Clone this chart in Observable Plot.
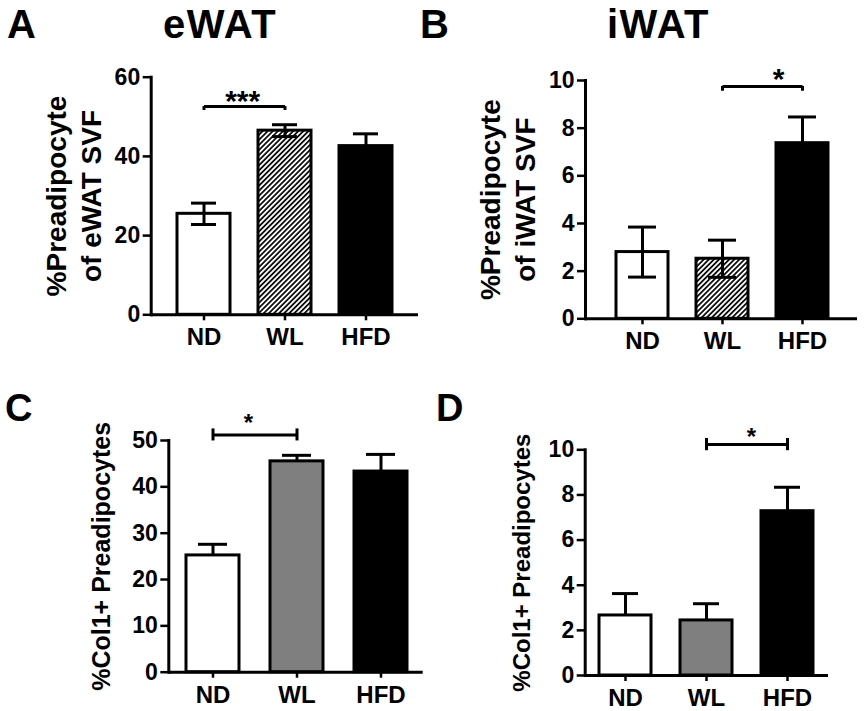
<!DOCTYPE html>
<html>
<head>
<meta charset="utf-8">
<script src="https://cdn.jsdelivr.net/npm/d3@7"></script>
<script src="https://cdn.jsdelivr.net/npm/@observablehq/plot@0.6"></script>
<style>
  html, body { margin: 0; padding: 0; background: #fff; }
  #fig { position: relative; width: 864px; height: 711px; background: #fff; overflow: hidden;
         font-family: "Liberation Sans", Arial, Helvetica, sans-serif; font-weight: bold; color: #000; }
  .lbl { position: absolute; white-space: nowrap; }
  .panel { position: absolute; }
</style>
</head>
<body>
<div id="fig">
  <div class="lbl" style="left:7px; top:4px; font-size:40px; line-height:40px;">A</div>
  <div class="lbl" style="left:163px; top:4px; font-size:40px; line-height:40px; letter-spacing:1.5px;">eWAT</div>
  <div class="lbl" style="left:420px; top:4px; font-size:40px; line-height:40px;">B</div>
  <div class="lbl" style="left:607px; top:4px; font-size:40px; line-height:40px; letter-spacing:1.5px;">iWAT</div>
  <div class="lbl" style="left:5px; top:389px; font-size:38px; line-height:38px;">C</div>
  <div class="lbl" style="left:436px; top:389px; font-size:38px; line-height:38px;">D</div>
</div>
<script>
// ---- data ----
const groups = ["ND", "WL", "HFD"];

const eWATMean = [25.5, 46.5, 42.6];
const eWATSem  = [2.7, 1.5, 3.1];
const eWATTicks = [0, 20, 40, 60];

const iWATMean = [2.8, 2.52, 7.37];
const iWATSem  = [1.05, 0.78, 1.1];
const iWATTicks = [0, 2, 4, 6, 8, 10];

const col1eMean = [25.2, 45.5, 43.3];
const col1eSem  = [2.4, 1.3, 3.7];
const col1eTicks = [0, 10, 20, 30, 40, 50];

const col1iMean = [2.66, 2.44, 7.28];
const col1iSem  = [0.97, 0.74, 1.06];
const col1iTicks = [0, 2, 4, 6, 8, 10];

const fillsTop = ["white", "hatch", "black"];
const fillsBottom = ["white", "#7f7f7f", "black"];

const sigFrom  = ["ND", "WL", "ND", "WL"];
const sigTo    = ["WL", "HFD", "WL", "HFD"];
const sigY     = [52.6, 9.75, 51.2, 10.23];
const sigStarY = [55.9, 10.39, 55.0, 10.81];
const sigLabel = ["***", "*", "*", "*"];

const yTitles = ["%Preadipocyte\nof eWAT SVF", "%Preadipocyte\nof iWAT SVF",
                 "%Col1+ Preadipocytes", "%Col1+ Preadipocytes"];

// ---- panel builder ----
function panel(cfg) {
  const rows = groups.map((g, i) => ({
    g, m: cfg.mean[i], s: cfg.sem[i],
    fill: cfg.fills[i] === "hatch" ? `url(#${cfg.id}-hatch)` : cfg.fills[i]
  }));
  const k = cfg.sig;
  const sig = [{from: sigFrom[k], to: sigTo[k], y: sigY[k], sy: sigStarY[k], label: sigLabel[k]}];
  const ends = [sigFrom[k], sigTo[k]];
  const lw = 3;
  const marks = [
    Plot.barY(rows, {x: "g", y: "m", fill: "fill", stroke: "black", strokeWidth: lw}),
    Plot.ruleX(rows, {x: "g", y1: cfg.twoSided ? d => d.m - d.s : "m", y2: d => d.m + d.s, stroke: "black", strokeWidth: lw}),
    Plot.tickY(rows, {x: "g", y: d => d.m + d.s, stroke: "black", strokeWidth: lw, insetLeft: cfg.capInset, insetRight: cfg.capInset}),
    cfg.twoSided ? Plot.tickY(rows, {x: "g", y: d => d.m - d.s, stroke: "black", strokeWidth: lw, insetLeft: cfg.capInset, insetRight: cfg.capInset}) : null,
    Plot.ruleY([0], {stroke: "black", strokeWidth: lw}),
    Plot.frame({anchor: "left", stroke: "black", strokeWidth: lw}),
    Plot.axisY({ticks: cfg.ticks, tickSize: 8, tickPadding: 3, fontSize: 23, fontWeight: "bold", strokeWidth: 2.5, label: null}),
    Plot.axisX({tickSize: 6, tickPadding: 7.5, fontSize: 24, fontWeight: "bold", strokeWidth: 2.5, label: null}),
    Plot.link(sig, {x1: "from", x2: "to", y1: "y", y2: "y", stroke: "black", strokeWidth: lw}),
    cfg.bracketStyle === "hook"
      ? Plot.ruleX(ends, {x: d => d, y1: sig[0].y - cfg.hook, y2: sig[0].y, stroke: "black", strokeWidth: lw})
      : Plot.ruleX(ends, {x: d => d, y1: sig[0].y - cfg.hook, y2: sig[0].y + cfg.hook, stroke: "black", strokeWidth: lw}),
    Plot.text(sig, {x: "from", y: "sy", text: "label", dx: cfg.starDx, dy: cfg.starSize * 0.26,
                    fontSize: cfg.starSize, fontWeight: "bold", textAnchor: "middle", lineAnchor: "middle"}),
    Plot.text([yTitles[k]], {frameAnchor: "left", text: d => d, rotate: -90, dx: cfg.titleDx,
                    fontSize: cfg.titleSize, fontWeight: "bold", lineHeight: 1.26,
                    textAnchor: "middle", lineAnchor: "middle"})
  ].filter(Boolean);

  const svg = Plot.plot({
    width: cfg.width, height: cfg.height,
    marginLeft: cfg.ml, marginRight: cfg.mr, marginTop: cfg.mt, marginBottom: cfg.mb,
    x: {type: "band", domain: groups, paddingInner: cfg.pi, paddingOuter: cfg.po, align: cfg.align},
    y: {domain: cfg.domain},
    color: {type: "identity"},
    style: {fontFamily: "'Liberation Sans', Arial, Helvetica, sans-serif", fontWeight: "bold",
            color: "black", background: "transparent", overflow: "visible"},
    marks
  });

  const defs = d3.select(svg).insert("defs", ":first-child");
  const pat = defs.append("pattern")
    .attr("id", `${cfg.id}-hatch`)
    .attr("patternUnits", "userSpaceOnUse")
    .attr("width", 3.6).attr("height", 3.6)
    .attr("patternTransform", "rotate(45)");
  pat.append("rect").attr("width", 3.6).attr("height", 3.6).attr("fill", "white");
  pat.append("line").attr("x1", 1.8).attr("y1", 0).attr("x2", 1.8).attr("y2", 3.6)
     .attr("stroke", "black").attr("stroke-width", 1.7);

  const wrap = document.createElement("div");
  wrap.className = "panel";
  wrap.style.left = cfg.left + "px";
  wrap.style.top = cfg.top + "px";
  wrap.appendChild(svg);
  document.getElementById("fig").appendChild(wrap);
}

panel({id: "A", left: 0, top: 45, width: 432, height: 310,
       ml: 150.7, mr: 14, mt: 31.7, mb: 40.7,
       pi: 0.346, po: 0.323, align: 0.512,
       mean: eWATMean, sem: eWATSem, ticks: eWATTicks, domain: [0, 60],
       fills: fillsTop, twoSided: true, capInset: 14, sig: 0,
       bracketStyle: "hook", hook: 1.0, starDx: 38.7, starSize: 30,
       titleDx: -79.3, titleSize: 28});

panel({id: "B", left: 432, top: 45, width: 432, height: 310,
       ml: 153, mr: 7, mt: 35, mb: 36.7,
       pi: 0.344, po: 0.354, align: 0.52,
       mean: iWATMean, sem: iWATSem, ticks: iWATTicks, domain: [0, 10],
       fills: fillsTop, twoSided: true, capInset: 12, sig: 1,
       bracketStyle: "hook", hook: 0.2, starDx: 56, starSize: 30,
       titleDx: -79.3, titleSize: 28});

panel({id: "C", left: 0, top: 395, width: 432, height: 316,
       ml: 168.3, mr: 9.3, mt: 45, mb: 39.3,
       pi: 0.371, po: 0.182, align: 0.54,
       mean: col1eMean, sem: col1eSem, ticks: col1eTicks, domain: [0, 50],
       fills: fillsBottom, twoSided: false, capInset: 12, sig: 2,
       bracketStyle: "cap", hook: 1.3, starDx: 35.3, starSize: 24,
       titleDx: -69, titleSize: 25});

panel({id: "D", left: 432, top: 395, width: 432, height: 316,
       ml: 152.7, mr: 36, mt: 54.3, mb: 36,
       pi: 0.356, po: 0.17, align: 0.5,
       mean: col1iMean, sem: col1iSem, ticks: col1iTicks, domain: [0, 10],
       fills: fillsBottom, twoSided: false, capInset: 13, sig: 3,
       bracketStyle: "cap", hook: 0.27, starDx: 45, starSize: 24,
       titleDx: -64.7, titleSize: 24});
</script>
</body>
</html>
